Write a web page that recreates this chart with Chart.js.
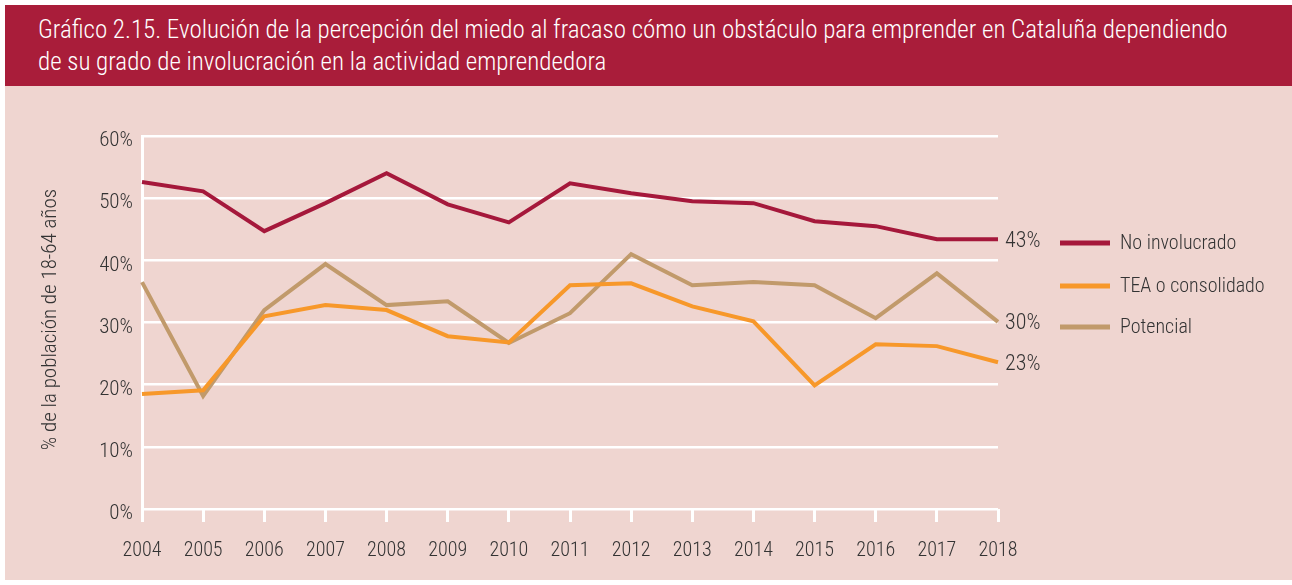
<!DOCTYPE html>
<html>
<head>
<meta charset="utf-8">
<script src="https://cdn.jsdelivr.net/npm/chart.js@4/dist/chart.umd.min.js"></script>
<style>
  html, body { margin: 0; padding: 0; background: #fff; }
  body { width: 1292px; height: 585px; position: relative; overflow: hidden; }
  #title {
    position: absolute; left: 5px; top: 5px; width: 1287px; height: 81px;
    background: #a91d3a; color: #fff; box-sizing: border-box;
    padding: 9px 0 0 33px;
    font-family: "Roboto Condensed", sans-serif; font-weight: 300;
    font-size: 25px; line-height: 32px; white-space: nowrap;
  }
  #wrap {
    position: absolute; left: 5px; top: 86px; width: 1287px; height: 494px;
    background: #efd5d0;
  }
</style>
</head>
<body>
<div id="title">Gráfico 2.15. Evolución de la percepción del miedo al fracaso cómo un obstáculo para emprender en Cataluña dependiendo<br>de su grado de involucración en la actividad emprendedora</div>
<div id="wrap"><canvas id="chart" width="1287" height="494"></canvas></div>
<script>
// data
const years = ['2004','2005','2006','2007','2008','2009','2010','2011','2012','2013','2014','2015','2016','2017','2018'];
const noInvolucrado = [52.6, 51.1, 44.7, 49.2, 54.0, 49.0, 46.1, 52.4, 50.8, 49.5, 49.2, 46.3, 45.5, 43.4, 43.4];
const teaConsolidado = [18.5, 19.1, 31.0, 32.8, 32.0, 27.8, 26.8, 36.0, 36.3, 32.6, 30.2, 19.9, 26.5, 26.2, 23.6];
const potencial = [36.5, 18.2, 32.0, 39.4, 32.8, 33.4, 26.7, 31.5, 41.0, 36.0, 36.5, 36.0, 30.7, 37.9, 30.1];
const seriesNames = ['No involucrado', 'TEA o consolidado', 'Potencial'];
const endLabels = ['43%', '23%', '30%'];
const yTicks = [0, 10, 20, 30, 40, 50, 60];

const colors = ['#a5183b', '#f7982a', '#c19a6b'];
const FONT = '"Roboto Condensed", sans-serif';
const TXT = '#333333';

// end-of-line labels, legend and y axis title
const extras = {
  id: 'extras',
  afterDatasetsDraw(chart) {
    const ctx = chart.ctx;
    const x = chart.scales.x, y = chart.scales.y;
    ctx.save();
    ctx.font = '300 22px ' + FONT;
    ctx.fillStyle = TXT;
    ctx.textBaseline = 'middle';
    ctx.textAlign = 'left';
    chart.data.datasets.forEach((ds, i) => {
      const v = ds.data[ds.data.length - 1];
      ctx.fillText(endLabels[i], x.getPixelForValue(ds.data.length - 1) + 7, y.getPixelForValue(v) + 2);
    });
    // legend
    ctx.font = '300 20px ' + FONT;
    const legY = [157, 200, 241];
    chart.data.datasets.forEach((ds, i) => {
      ctx.strokeStyle = ds.borderColor;
      ctx.lineWidth = 5;
      ctx.beginPath();
      ctx.moveTo(1055, legY[i]);
      ctx.lineTo(1105, legY[i]);
      ctx.stroke();
      ctx.fillStyle = TXT;
      ctx.fillText(ds.label, 1115, legY[i] + 1);
    });
    // y axis title
    ctx.translate(46, (y.top + y.bottom) / 2 - 3);
    ctx.rotate(-Math.PI / 2);
    ctx.textAlign = 'center';
    ctx.font = '300 21px ' + FONT;
    ctx.fillText('% de la población de 18-64 años', 0, 0);
    ctx.restore();
  }
};

new Chart(document.getElementById('chart'), {
  type: 'line',
  data: {
    labels: years,
    datasets: [
      { label: seriesNames[0], data: noInvolucrado, borderColor: colors[0] },
      { label: seriesNames[1], data: teaConsolidado, borderColor: colors[1] },
      { label: seriesNames[2], data: potencial, borderColor: colors[2] }
    ].map(d => Object.assign(d, { borderWidth: 4, pointRadius: 0, tension: 0, fill: false }))
  },
  options: {
    responsive: false,
    animation: false,
    layout: { padding: { left: 0, right: 294, top: 50, bottom: 0 } },
    plugins: { legend: { display: false }, tooltip: { enabled: false } },
    scales: {
      x: {
        offset: false,
        border: { display: false },
        grid: { drawOnChartArea: false, drawTicks: true, tickLength: 13, color: '#ffffff', lineWidth: 3 },
        ticks: { color: TXT, font: { family: FONT, size: 20, weight: 300 }, padding: 17, maxRotation: 0, autoSkip: false },
        afterFit(s) { s.height = 71; }
      },
      y: {
        min: 0, max: 60,
        border: { display: true, color: '#ffffff', width: 3 },
        grid: { color: '#ffffff', lineWidth: 2.5, drawTicks: false },
        afterBuildTicks(s) { s.ticks = yTicks.map(v => ({ value: v })); },
        ticks: { color: TXT, font: { family: FONT, size: 21, weight: 300 }, padding: 9, labelOffset: 5, callback: v => v + '%' },
        afterFit(s) { s.width = 137; }
      }
    }
  },
  plugins: [extras]
});
</script>
</body>
</html>
